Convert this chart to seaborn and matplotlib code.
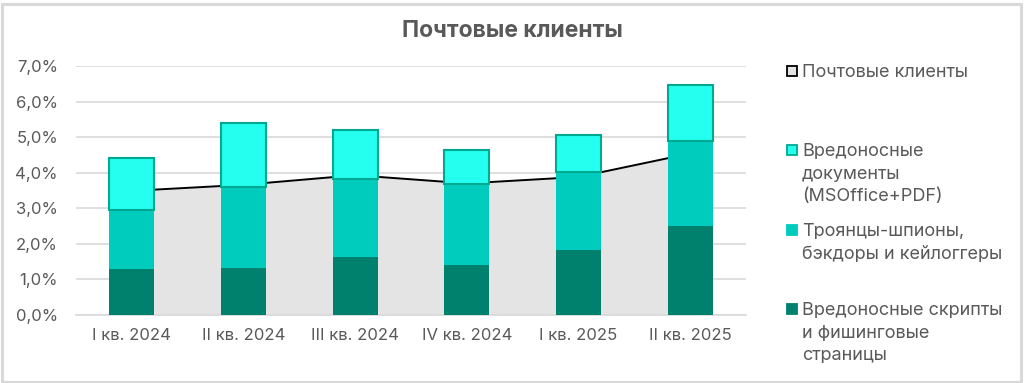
import matplotlib
matplotlib.use("Agg")
import matplotlib.pyplot as plt
import seaborn as sns
import numpy as np
import pandas as pd
from matplotlib.patches import Rectangle
from matplotlib.ticker import FuncFormatter

categories = ["I кв. 2024", "II кв. 2024", "III кв. 2024", "IV кв. 2024", "I кв. 2025", "II кв. 2025"]
scripts_phishing = [1.28, 1.31, 1.63, 1.41, 1.83, 2.51]
trojans = [1.67, 2.30, 2.18, 2.27, 2.18, 2.38]
documents = [1.46, 1.80, 1.39, 0.96, 1.06, 1.58]
mail_clients = [3.49, 3.66, 3.93, 3.70, 3.88, 4.54]

title = "Почтовые клиенты"
legend_labels = ["Почтовые клиенты",
                 "Вредоносные\nдокументы\n(MSOffice+PDF)",
                 "Троянцы-шпионы,\nбэкдоры и кейлоггеры",
                 "Вредоносные скрипты\nи фишинговые\nстраницы"]

C_DARK = "#00816D"
C_MID = "#00CCBE"
C_LIGHT = "#24FFF0"
C_EDGE = "#00A88F"
C_AREA = "#E4E4E4"
TXT = "#595959"
GRID = "#D9D9D9"

sns.set_theme(style="white")
plt.rcParams['font.family'] = ['Inter', 'DejaVu Sans']

df = pd.DataFrame({"cat": categories, "s": scripts_phishing, "t": trojans, "d": documents,
                   "m": mail_clients})
df["x"] = np.arange(len(df))
b1 = np.array(scripts_phishing)
b2 = b1 + np.array(trojans)

fig = plt.figure(figsize=(10.24, 3.83), dpi=100)
ax = fig.add_axes([76/1024, 68/383, 670/1024, 249/383])

# area + line
ax.fill_between(df["x"], 0, df["m"], color=C_AREA, zorder=1, linewidth=0)
sns.lineplot(x=df["x"], y=df["m"], ax=ax, color="black", linewidth=1.4, zorder=2)

# stacked bars
order = list(range(len(categories)))
sns.barplot(x=df["x"], y=df["s"], ax=ax, color=C_DARK, width=0.405, saturation=1,
            order=order, native_scale=True, zorder=3, linewidth=0)
sns.barplot(x=df["x"], y=df["t"], ax=ax, color=C_MID, width=0.405, saturation=1,
            order=order, native_scale=True, zorder=3, linewidth=0, bottom=b1)
sns.barplot(x=df["x"], y=df["d"], ax=ax, color=C_LIGHT, width=0.405, saturation=1,
            order=order, native_scale=True, zorder=4, linewidth=1.5, edgecolor=C_EDGE,
            bottom=b2)

ax.set_xlim(-0.5, 5.5)
ax.set_ylim(0, 7)
ax.set_yticks(np.arange(0, 8, 1))
ax.yaxis.set_major_formatter(FuncFormatter(lambda v, p: f"{v:.1f}%".replace(".", ",")))
ax.set_xticks(df["x"])
ax.set_xticklabels(categories)
ax.grid(axis="y", color=GRID, linewidth=1.2, zorder=0)
ax.set_axisbelow(True)
for s in ["top", "right", "left"]:
    ax.spines[s].set_visible(False)
ax.spines["bottom"].set_color(GRID)
ax.spines["bottom"].set_linewidth(1.2)
ax.tick_params(axis="y", length=0, pad=13, labelsize=12, labelcolor=TXT)
ax.tick_params(axis="x", length=0, pad=9, labelsize=12, labelcolor=TXT)
ax.set_xlabel("")
ax.set_ylabel("")

fig.text(512/1024, 1 - 31/383, title, ha="center", va="center", fontsize=16.5,
         fontweight="bold", color=TXT)

# legend (manual)
W, H = 1024, 383
entries = [(71, C_AREA, "black", legend_labels[0]),
           (150, C_LIGHT, C_EDGE, legend_labels[1]),
           (230, C_MID, C_MID, legend_labels[2]),
           (309, C_DARK, C_DARK, legend_labels[3])]
for y, fc, ec, lab in entries:
    fig.add_artist(Rectangle((787/W, 1 - (y + 5)/H), 10/W, 10/H, transform=fig.transFigure,
                             facecolor=fc, edgecolor=ec, linewidth=1.3))
    fig.text(802/W, 1 - (y - 7)/H, lab, ha="left", va="top", fontsize=13, color=TXT,
             linespacing=1.44)

# frame
fig.add_artist(Rectangle((1.5/W, 1.5/H), 1019/W, 378/H, transform=fig.transFigure,
                         facecolor="none", edgecolor=GRID, linewidth=2.2))

fig.savefig("out.png", dpi=100)
